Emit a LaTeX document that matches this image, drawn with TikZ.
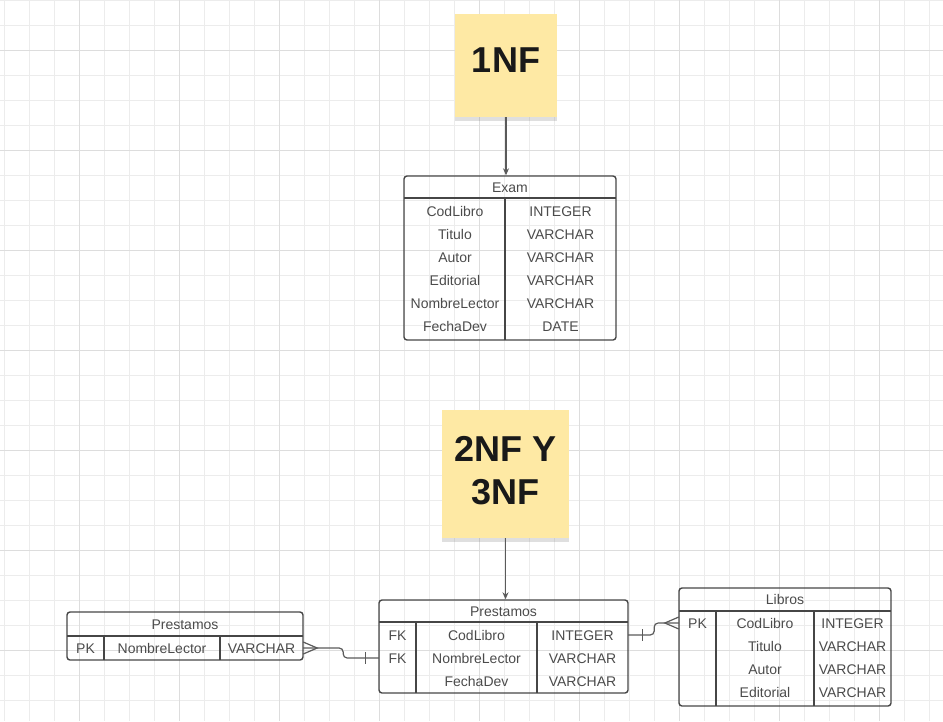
\documentclass[tikz,border=0pt]{standalone}
\usepackage{fontspec}
\setmainfont{Liberation Sans}
\usetikzlibrary{arrows.meta,shadows,positioning}

\definecolor{gridminor}{RGB}{236,236,236}
\definecolor{gridmajor}{RGB}{221,221,221}
\definecolor{noteyellow}{RGB}{254,233,164}
\definecolor{boxline}{RGB}{70,70,70}
\definecolor{celltext}{RGB}{75,75,75}
\definecolor{linkgray}{RGB}{90,90,90}

\tikzset{
  tbl/.style={draw=boxline, line width=1.4pt, rounded corners=3pt, inner sep=0pt},
  rule/.style={draw=boxline, line width=1.4pt},
  cell/.style={text=celltext, font=\fontsize{14}{16}\selectfont, inner sep=0pt,
    minimum height=23pt, text height=10pt, text depth=0pt},
  note/.style={fill=noteyellow, inner sep=0pt, align=center, text=black!90,
    font=\bfseries\fontsize{36}{43}\selectfont,
    drop shadow={shadow xshift=0pt, shadow yshift=-4pt, opacity=0.25}},
  link/.style={draw=linkgray, line width=1.2pt},
}

\begin{document}
\begin{tikzpicture}[x=1pt, y=-1pt]
			\useasboundingbox (0,0) rectangle (943,721);
			
			% Background grid
			\foreach \x in {4,29,...,929} \draw[gridminor, line width=1pt] (\x,0) -- (\x,721);
			\foreach \y in {0,25,...,700} \draw[gridminor, line width=1pt] (0,\y) -- (943,\y);
			\foreach \x in {79,179,...,879} \draw[gridmajor, line width=1pt] (\x,0) -- (\x,721);
			\foreach \y in {50,150,...,650} \draw[gridmajor, line width=1pt] (0,\y) -- (943,\y);
			
			% 1NF sticky note
			\node[note, minimum width=102pt, minimum height=103pt, text depth=11pt] (note1) at (506,65.5) {1NF};
			
			% Exam table
			\node[tbl, minimum width=212pt, minimum height=164pt] (exam) at (510,258) {};
			\node[cell] (examHead) at (510,187) {Exam};
			\draw[rule] (404,198) -- (616,198);
			\draw[rule] (505,198) -- (505,340);
			\foreach \name/\type [count=\i] in {CodLibro/INTEGER,Titulo/VARCHAR,Autor/VARCHAR,Editorial/VARCHAR,NombreLector/VARCHAR,FechaDev/DATE} {
				\node[cell] (examN\i) at (455,188+23*\i) {\name};
				\node[cell] (examT\i) at (560.5,188+23*\i) {\type};
			}
			\draw[link, -{Stealth[length=7pt,width=6pt]}] (note1.south) -- (note1.south |- exam.north);
			
			% 2NF Y 3NF sticky note
			\node[note, minimum width=127pt, minimum height=128pt, text depth=7pt] (note2) at (505.5,474) {2NF Y\\3NF};
			
			% Prestamos table (middle)
			\node[tbl, minimum width=249pt, minimum height=93pt] (prest) at (503.5,646.5) {};
			\node[cell] (prestHead) at (503.5,611) {Prestamos};
			\draw[rule] (379,622) -- (628,622);
			\draw[rule] (416,622) -- (416,693);
			\draw[rule] (537,622) -- (537,693);
			\foreach \key/\name/\type [count=\i] in {FK/CodLibro/INTEGER,FK/NombreLector/VARCHAR,/FechaDev/VARCHAR} {
				\node[cell, minimum width=37pt] (prestK\i) at (397.5,612+23*\i) {\key};
				\node[cell] (prestN\i) at (476.5,612+23*\i) {\name};
				\node[cell, minimum width=91pt] (prestT\i) at (582.5,612+23*\i) {\type};
			}
			\draw[link, -{Stealth[length=7pt,width=6pt]}] (note2.south) -- (note2.south |- prest.north);
			
			% Prestamos table (left)
			\node[tbl, minimum width=236pt, minimum height=48pt] (lector) at (185,636) {};
			\node[cell] (lectorHead) at (185,624) {Prestamos};
			\draw[rule] (67,636) -- (303,636);
			\draw[rule] (104,636) -- (104,660);
			\draw[rule] (220,636) -- (220,660);
			\node[cell, minimum width=37pt] (lectorK1) at (85.5,648) {PK};
			\node[cell] (lectorN1) at (162,648) {NombreLector};
			\node[cell, minimum width=83pt] (lectorT1) at (261.5,648) {VARCHAR};
			
			% Libros table
			\node[tbl, minimum width=212pt, minimum height=118pt] (libros) at (785,647) {};
			\node[cell] (librosHead) at (785,599.5) {Libros};
			\draw[rule] (679,611) -- (891,611);
			\draw[rule] (716,611) -- (716,706);
			\draw[rule] (814,611) -- (814,706);
			\foreach \key/\name/\type [count=\i] in {PK/CodLibro/INTEGER,/Titulo/VARCHAR,/Autor/VARCHAR,/Editorial/VARCHAR} {
				\node[cell, minimum width=37pt] (librosK\i) at (697.5,600+23*\i) {\key};
				\node[cell] (librosN\i) at (765,600+23*\i) {\name};
				\node[cell] (librosT\i) at (852.5,600+23*\i) {\type};
			}
			
			% Relation lector - prestamos
			\draw[link, rounded corners=4pt] (lectorT1.east) -- ++(40,0) |- (prestK2.west);
			\draw[link] ([yshift=6pt]lectorT1.east) -- ([xshift=14pt]lectorT1.east) -- ([yshift=-6pt]lectorT1.east);
			\draw[link] ([xshift=-13pt,yshift=6pt]prestK2.west) -- ([xshift=-13pt,yshift=-6pt]prestK2.west);
			
			% Relation prestamos - libros
			\draw[link, rounded corners=4pt] (prestT1.east) -- ++(26,0) |- (librosK1.west);
			\draw[link] ([xshift=14pt,yshift=6pt]prestT1.east) -- ([xshift=14pt,yshift=-6pt]prestT1.east);
			\draw[link] ([yshift=6pt]librosK1.west) -- ([xshift=-14pt]librosK1.west) -- ([yshift=-6pt]librosK1.west);
		\end{tikzpicture}
\end{document}
